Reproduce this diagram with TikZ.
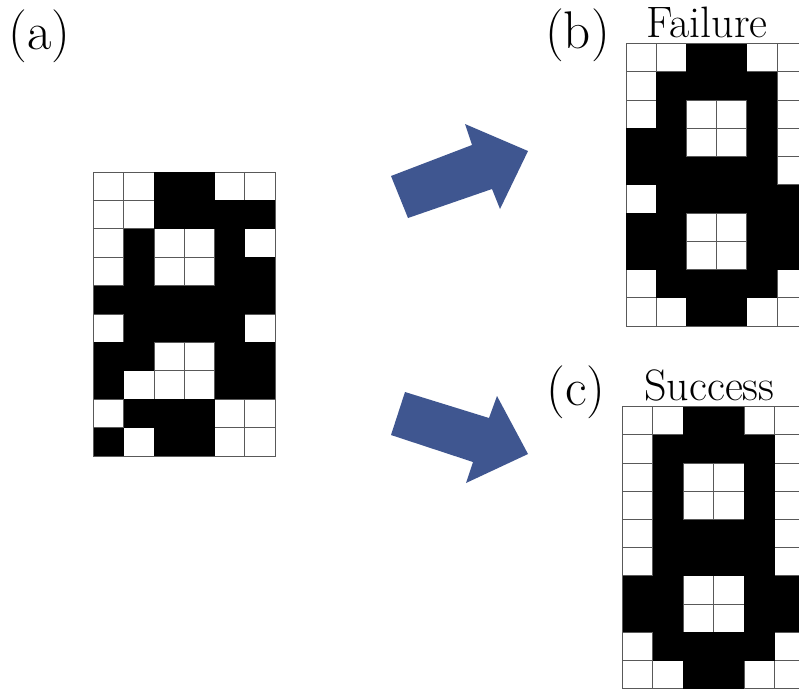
\documentclass[tikz,border=0pt]{standalone}
\definecolor{arrowblue}{RGB}{63,86,144}
\tikzset{
  whitecell/.style={draw=black!65, line width=1pt, fill=white},
  blackcell/.style={fill=black},
  bigarrow/.style={fill=arrowblue, draw=none},
  panellabel/.style={font=\fontsize{53}{56}\selectfont, anchor=base, inner sep=0pt},
  titlelabel/.style={font=\fontsize{44}{48}\selectfont, anchor=base, inner sep=0pt},
}
\newcommand{\pixgrid}[1]{%
  \foreach \row [count=\r from 0] in {#1}{%
    \foreach \v [count=\c from 0] in \row {%
      \path[whitecell] (\c,\r) rectangle ++(1,1);
    }%
  }%
  \foreach \row [count=\r from 0] in {#1}{%
    \foreach \v [count=\c from 0] in \row {%
      \ifnum\v=1 \path[blackcell] (\c,\r) rectangle ++(1,1);\fi
    }%
  }%
}
\begin{document}
\begin{tikzpicture}[x=1pt,y=-1pt]
\useasboundingbox[fill=white] (0,0) rectangle (799,689);
\begin{scope}
\clip (0,0) rectangle (799,689);

% grid (a)
\begin{scope}[shift={(93.5,172)}, x=30.25pt, y=-28.4pt]
\pixgrid{{0,0,1,1,0,0},{0,0,1,1,1,1},{0,1,0,0,1,0},{0,1,0,0,1,1},{1,1,1,1,1,1},{0,1,1,1,1,0},{1,1,0,0,1,1},{1,0,0,0,1,1},{0,1,1,1,0,0},{1,0,1,1,0,0}}
\end{scope}

% grid (b)
\begin{scope}[shift={(626,43.5)}, x=30.2pt, y=-28.25pt]
\pixgrid{{0,0,1,1,0,0},{0,1,1,1,1,0},{0,1,0,0,1,0},{1,1,0,0,1,0},{1,1,1,1,1,0},{0,1,1,1,1,1},{1,1,0,0,1,1},{1,1,0,0,1,1},{0,1,1,1,1,0},{0,0,1,1,0,0}}
\end{scope}

% grid (c)
\begin{scope}[shift={(622.5,406.7)}, x=30.4pt, y=-28.2pt]
\pixgrid{{0,0,1,1,0,0},{0,1,1,1,1,0},{0,1,0,0,1,0},{0,1,0,0,1,0},{0,1,1,1,1,0},{0,1,1,1,1,0},{1,1,0,0,1,1},{1,1,0,0,1,1},{0,1,1,1,1,0},{0,0,1,1,0,0}}
\end{scope}
\end{scope}

% arrows
\path[bigarrow] (391,176) -- (472,145) -- (465,124) -- (528,151) -- (500,209) -- (492,189) -- (408,218) -- cycle;
\path[bigarrow] (405,392) -- (489,418) -- (497,396) -- (528,454) -- (466,483) -- (473,462) -- (391,435) -- cycle;

% labels
\node[panellabel] (la) at (39.5,49.5) {(a)};
\node[panellabel] (lb) at (577.5,48.5) {(b)};
\node[panellabel] (lc) at (576,405.5) {(c)};
\node[titlelabel] (tf) at (707,37) {Failure};
\node[titlelabel] (ts) at (709.5,400) {Success};
\end{tikzpicture}
\end{document}
